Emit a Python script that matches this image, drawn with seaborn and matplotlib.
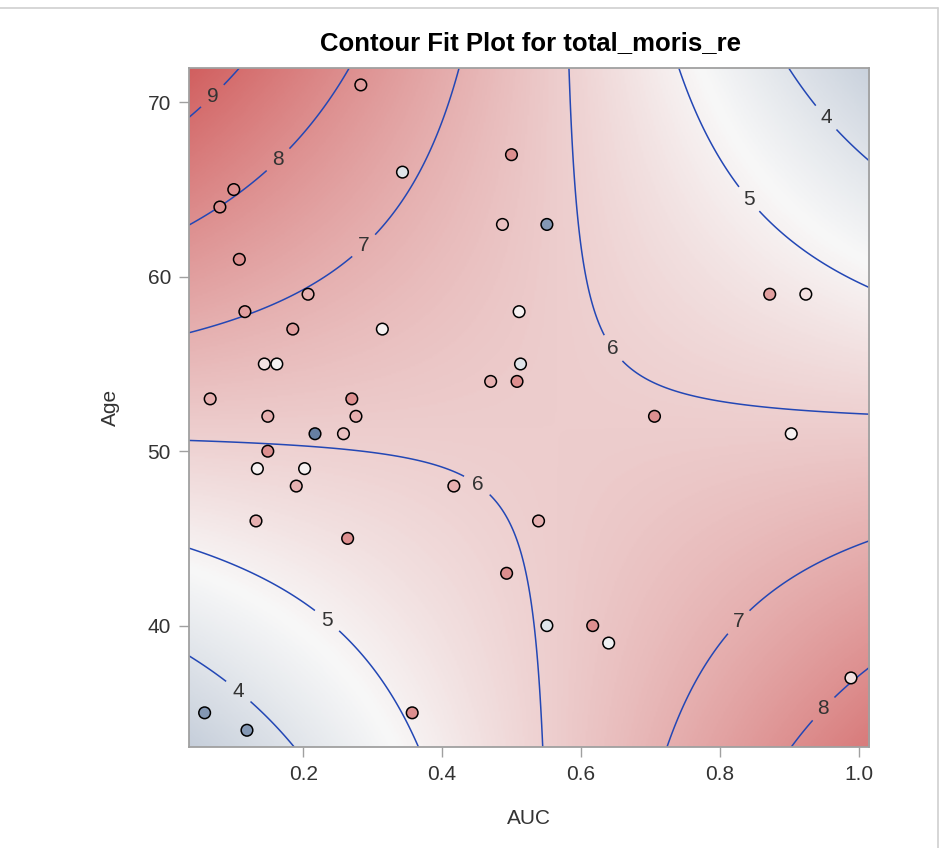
import numpy as np
import pandas as pd
import matplotlib
matplotlib.use("Agg")
import matplotlib.pyplot as plt
import seaborn as sns
from matplotlib.colors import LinearSegmentedColormap, Normalize
from matplotlib.lines import Line2D

auc = [0.283, 0.343, 0.100, 0.080, 0.108, 0.207, 0.116, 0.500, 0.487, 0.551,
       0.872, 0.924, 0.511, 0.185, 0.314, 0.144, 0.162, 0.066, 0.270, 0.149,
       0.276, 0.217, 0.258, 0.149, 0.134, 0.202, 0.190, 0.417, 0.132, 0.264,
       0.513, 0.470, 0.508, 0.706, 0.903, 0.539, 0.357, 0.058, 0.119, 0.493,
       0.551, 0.617, 0.640, 0.989]
age = [71, 66, 65, 64, 61, 59, 58, 67, 63, 63,
       59, 59, 58, 57, 57, 55, 55, 53, 53, 52,
       52, 51, 51, 50, 49, 49, 48, 48, 46, 45,
       55, 54, 54, 52, 51, 46, 35, 35, 34, 43,
       40, 40, 39, 37]
total_moris_re = [7.6, 4.0, 8.0, 8.0, 8.0, 7.0, 7.5, 8.0, 6.5, 1.0,
                  7.5, 5.5, 5.0, 7.5, 5.0, 5.5, 5.0, 7.0, 8.0, 7.0,
                  7.0, 0.0, 6.5, 8.0, 5.0, 5.0, 7.0, 7.0, 7.0, 8.0,
                  4.0, 7.0, 8.0, 8.0, 5.0, 7.0, 8.0, 1.0, 1.0, 8.0,
                  4.0, 8.0, 4.5, 5.5]

# fitted surface: total_moris_re = b0 + b1*AUC + b2*Age + b3*AUC*Age
fit_coef = {"Intercept": -2.754, "AUC": 15.69, "Age": 0.1728, "AUC*Age": -0.3058}
contour_levels = [4, 5, 6, 7, 8, 9]
x_ticks = [0.2, 0.4, 0.6, 0.8, 1.0]
x_tick_labels = ["0.2", "0.4", "0.6", "0.8", "1.0"]
y_ticks = [40, 50, 60, 70]
y_tick_labels = ["40", "50", "60", "70"]

df = pd.DataFrame({"AUC": auc, "Age": age, "total_moris_re": total_moris_re})

sns.set_style("white")
plt.rcParams["font.family"] = ["Liberation Sans", "DejaVu Sans"]

W, H = 947, 848
fig = plt.figure(figsize=(W / 100, H / 100), dpi=100)
ax = fig.add_axes([189 / W, 1 - 747 / H, 680 / W, 679 / H])

xlim = (0.0355, 1.015)
ylim = (33.04, 71.97)
gx = np.linspace(xlim[0], xlim[1], 400)
gy = np.linspace(ylim[0], ylim[1], 400)
X, Y = np.meshgrid(gx, gy)
Z = (fit_coef["Intercept"] + fit_coef["AUC"] * X + fit_coef["Age"] * Y
     + fit_coef["AUC*Age"] * X * Y)

cmap = LinearSegmentedColormap.from_list("ramp", ["#667FA2", "#F8F8F8", "#D05B5B"])
norm = Normalize(vmin=0.0, vmax=9.6)

ax.imshow(Z, extent=[xlim[0], xlim[1], ylim[0], ylim[1]], origin="lower",
          aspect="auto", cmap=cmap, norm=norm, interpolation="bilinear", zorder=0)
cs = ax.contour(X, Y, Z, levels=contour_levels, colors="#2347b5",
                linewidths=1.1, zorder=1)
label_pos = [(0.069, 70.38), (0.164, 66.71), (0.290, 61.67), (0.643, 55.81),
             (0.451, 48.08), (0.843, 64.48), (0.953, 69.12), (0.233, 40.22),
             (0.105, 36.15), (0.828, 40.17), (0.952, 35.13)]
texts = ax.clabel(cs, fmt="%d", fontsize=15, colors="#333333", inline=True,
                  inline_spacing=10, manual=label_pos)
for t in texts:
    t.set_rotation(0)

sns.scatterplot(data=df, x="AUC", y="Age", hue="total_moris_re", palette=cmap,
                hue_norm=norm, legend=False, s=70, edgecolor="black",
                linewidth=1.1, ax=ax, zorder=3)

ax.set_xlim(*xlim)
ax.set_ylim(*ylim)
ax.set_xticks(x_ticks)
ax.set_xticklabels(x_tick_labels)
ax.set_yticks(y_ticks)
ax.set_yticklabels(y_tick_labels)
ax.tick_params(bottom=True, left=True, direction="out", length=7, width=1,
               color="#a0a0a0", labelsize=15, labelcolor="#333333", pad=6)
for sp in ax.spines.values():
    sp.set_color("#a0a0a0")
    sp.set_linewidth(1.3)
ax.set_xlabel("AUC", fontsize=15, color="#333333", labelpad=18)
ax.set_ylabel("Age", fontsize=15, color="#333333", labelpad=20)

fig.text(530 / W, 1 - 43 / H, "Contour Fit Plot for total_moris_re",
         ha="center", va="center", fontsize=18.5, fontweight="bold", color="black")

fig.add_artist(Line2D([0, 938 / W], [1 - 8 / H, 1 - 8 / H], transform=fig.transFigure,
                      color="#d0d0d0", lw=1.2))
fig.add_artist(Line2D([938 / W, 938 / W], [0, 1 - 8 / H], transform=fig.transFigure,
                      color="#d0d0d0", lw=1.2))

fig.savefig("out.png", dpi=100, facecolor="white")
